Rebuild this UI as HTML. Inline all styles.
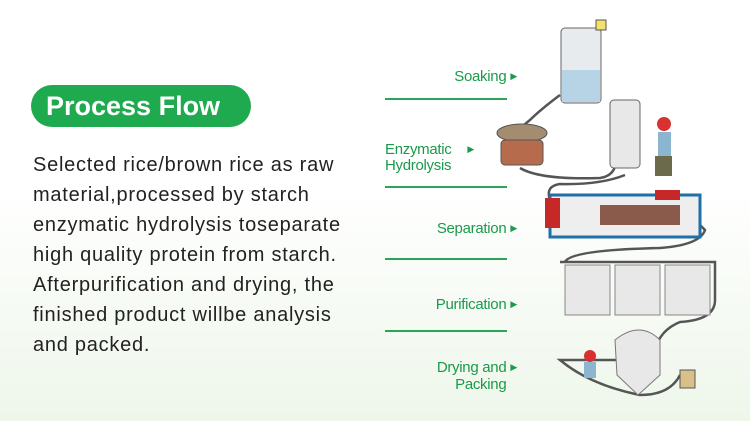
<!DOCTYPE html>
<html><head><style>
body{margin:0;width:750px;height:421px;overflow:hidden;font-family:"Liberation Sans",sans-serif;background:linear-gradient(#fff 0%,#fff 45%,#eef6ea 100%);position:relative}
.pill{position:absolute;left:31px;top:85px;width:220px;height:42px;border-radius:21px;background:#1faa4f;color:#fff;font-weight:bold;font-size:27px;line-height:42px;box-sizing:border-box;padding-left:15px}
.txt{position:absolute;left:33px;top:150px;font-size:20px;letter-spacing:0.75px;line-height:30px;color:#222;width:340px;white-space:nowrap}
.lb{position:absolute;color:#1a9a4a;font-size:15px;line-height:16px;text-align:right;letter-spacing:-0.3px}
.ar{font-size:9px;margin-left:4px;vertical-align:2px}
.ln{position:absolute;left:385px;width:122px;height:2px;background:#2aa55a}
</style></head><body>
<div class="pill">Process Flow</div>
<div class="txt">Selected rice/brown rice as raw<br>material,processed by starch<br>enzymatic hydrolysis toseparate<br>high quality protein from starch.<br>Afterpurification and drying, the<br>finished product willbe analysis<br>and packed.</div>
<div class="lb" style="left:440px;top:68px;width:77px">Soaking<span class="ar">▶</span></div>
<div class="lb" style="left:385px;top:141px;text-align:left">Enzymatic <span class="ar" style="margin-left:12px">▶</span><br>Hydrolysis</div>
<div class="lb" style="left:420px;top:220px;width:97px">Separation<span class="ar">▶</span></div>
<div class="lb" style="left:420px;top:296px;width:97px">Purification<span class="ar">▶</span></div>
<div class="lb" style="left:420px;top:359px;width:97px">Drying and<span class="ar">▶</span><br>Packing<span class="ar" style="visibility:hidden">▶</span></div>
<div class="ln" style="top:98px"></div>
<div class="ln" style="top:186px"></div>
<div class="ln" style="top:258px"></div>
<div class="ln" style="top:330px"></div>
<svg style="position:absolute;left:0;top:0" width="750" height="421">
<g fill="none" stroke="#555" stroke-width="2.5">
<path d="M560 95 Q540 110 530 120 Q520 128 520 130"/>
<path d="M520 168 Q540 180 600 178 Q620 175 615 150 L612 110 Q615 98 625 105"/>
<path d="M625 175 Q600 185 560 184 Q545 186 550 200"/>
<path d="M690 210 L700 210 L700 225 L705 230 Q700 245 660 248 Q570 250 565 262"/>
<path d="M560 262 L715 262 L715 300 Q715 320 680 322 Q660 330 655 350"/>
<path d="M628 360 L560 360 Q590 385 640 395 Q670 395 680 375"/>
</g>
<rect x="561" y="28" width="40" height="75" rx="4" fill="#e8ebee" stroke="#666"/>
<rect x="562" y="70" width="38" height="32" fill="#b7d3e6"/>
<rect x="596" y="20" width="10" height="10" fill="#f2e26a" stroke="#555"/>
<ellipse cx="522" cy="133" rx="25" ry="9" fill="#a38c70" stroke="#555"/>
<rect x="501" y="140" width="42" height="25" rx="4" fill="#b66c4c" stroke="#555"/>
<rect x="610" y="100" width="30" height="68" rx="4" fill="#e8e8e8" stroke="#666"/>
<circle cx="664" cy="124" r="7" fill="#d93030"/>
<rect x="658" y="132" width="13" height="24" fill="#8cb6cf"/>
<rect x="655" y="156" width="17" height="20" fill="#6b6b4b"/>
<rect x="550" y="195" width="150" height="42" fill="#eee" stroke="#1f6fa8" stroke-width="3"/>
<rect x="545" y="198" width="15" height="30" fill="#c62828"/>
<rect x="655" y="190" width="25" height="10" fill="#c62828"/>
<rect x="600" y="205" width="80" height="20" fill="#8a5a4a"/>
<rect x="565" y="265" width="45" height="50" fill="#e8e8e8" stroke="#888"/>
<rect x="615" y="265" width="45" height="50" fill="#e8e8e8" stroke="#888"/>
<rect x="665" y="265" width="45" height="50" fill="#e8e8e8" stroke="#888"/>
<path d="M615 340 Q640 320 660 340 L660 375 L638 395 L617 375 Z" fill="#e8e8e8" stroke="#777"/>
<rect x="680" y="370" width="15" height="18" fill="#d9c08a" stroke="#555"/>
<circle cx="590" cy="356" r="6" fill="#d93030"/>
<rect x="584" y="362" width="12" height="16" fill="#8cb6cf"/>
</svg>
</body></html>
